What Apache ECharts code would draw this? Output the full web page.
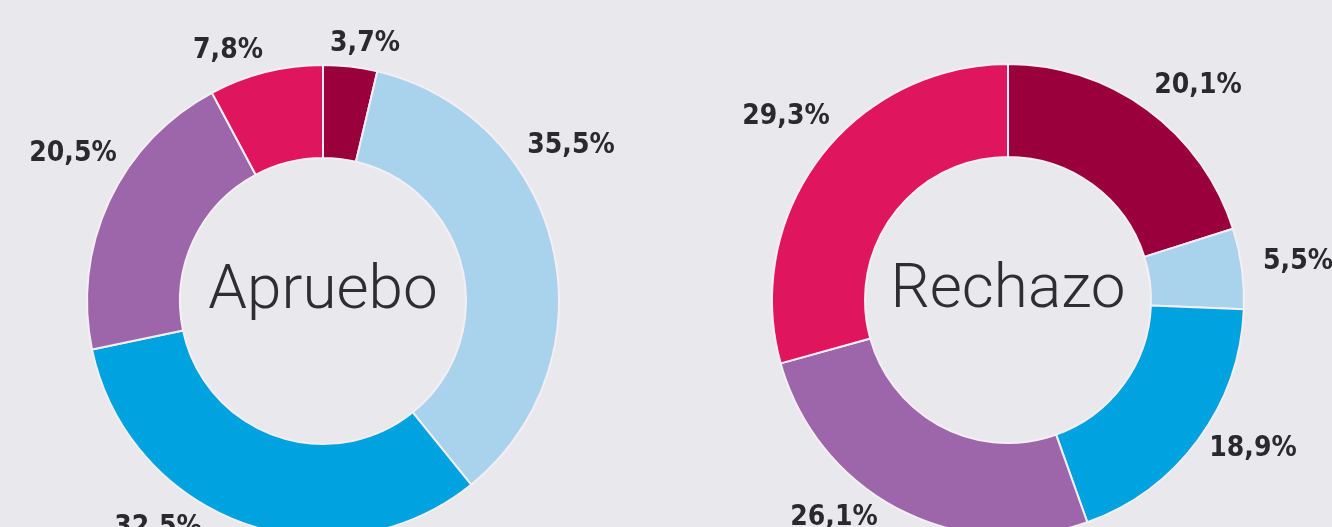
<!DOCTYPE html>
<html><head><meta charset="utf-8">
<script src="https://cdn.jsdelivr.net/npm/echarts@6/dist/echarts.min.js"></script>
<style>html,body{margin:0;padding:0;background:#e9e9ed;} #c{width:1332px;height:527px;}</style>
</head><body><div id="c"></div>
<script>
// ---- data ----
const categories = ['Grupo 1', 'Grupo 2', 'Grupo 3', 'Grupo 4', 'Grupo 5'];
const aprueboValues = [3.7, 35.5, 32.5, 20.5, 7.8];
const rechazoValues = [20.1, 5.5, 18.9, 26.1, 29.3];
const chartNames = ['Apruebo', 'Rechazo'];

// ---- style / layout ----
const colors = ['#9a003b', '#a9d3ec', '#00a2df', '#9d66aa', '#df165e'];
const centers = [[323, 301], [1008, 300]];
const radius = [143, 236];
const labelOffsets = [
  [[42, -257], [248, -155], [-165, 227], [-250, -147], [-95, -250]],
  [[190, -214], [290, -38], [245, 149], [-174, 218], [-222, -183]]
];
const labelFont = '"DejaVu Sans Condensed", "DejaVu Sans", sans-serif';

function fmt(v) { return v.toFixed(1).replace('.', ',') + '%'; }

function makeSeries(idx, values) {
  const c = centers[idx];
  return {
    type: 'pie',
    name: chartNames[idx],
    center: c,
    radius: radius,
    startAngle: 90,
    clockwise: true,
    avoidLabelOverlap: false,
    silent: true,
    itemStyle: { borderColor: '#f5eef4', borderWidth: 2 },
    label: {
      show: true,
      position: 'outside',
      formatter: p => fmt(p.value),
      fontFamily: labelFont,
      fontWeight: 'bold',
      fontSize: 28,
      color: '#2a2a2e'
    },
    labelLine: { show: false },
    labelLayout: function (params) {
      const o = labelOffsets[idx][params.dataIndex];
      return { x: c[0] + o[0], y: c[1] + o[1], align: 'center', verticalAlign: 'middle' };
    },
    data: categories.map((name, i) => ({ name: name, value: values[i], itemStyle: { color: colors[i] } }))
  };
}

const chart = echarts.init(document.getElementById('c'), null, { renderer: 'canvas' });
chart.setOption({
  backgroundColor: '#e9e9ed',
  animation: false,
  series: [makeSeries(0, aprueboValues), makeSeries(1, rechazoValues)],
  graphic: chartNames.map((t, i) => ({
    type: 'text',
    x: centers[i][0],
    y: centers[i][1] - 9,
    style: {
      text: t,
      align: 'center',
      verticalAlign: 'middle',
      fontFamily: 'Roboto, "Open Sans", sans-serif',
      fontWeight: 300,
      fontSize: 62,
      fill: '#2e2e32'
    }
  }))
});
</script></body></html>
